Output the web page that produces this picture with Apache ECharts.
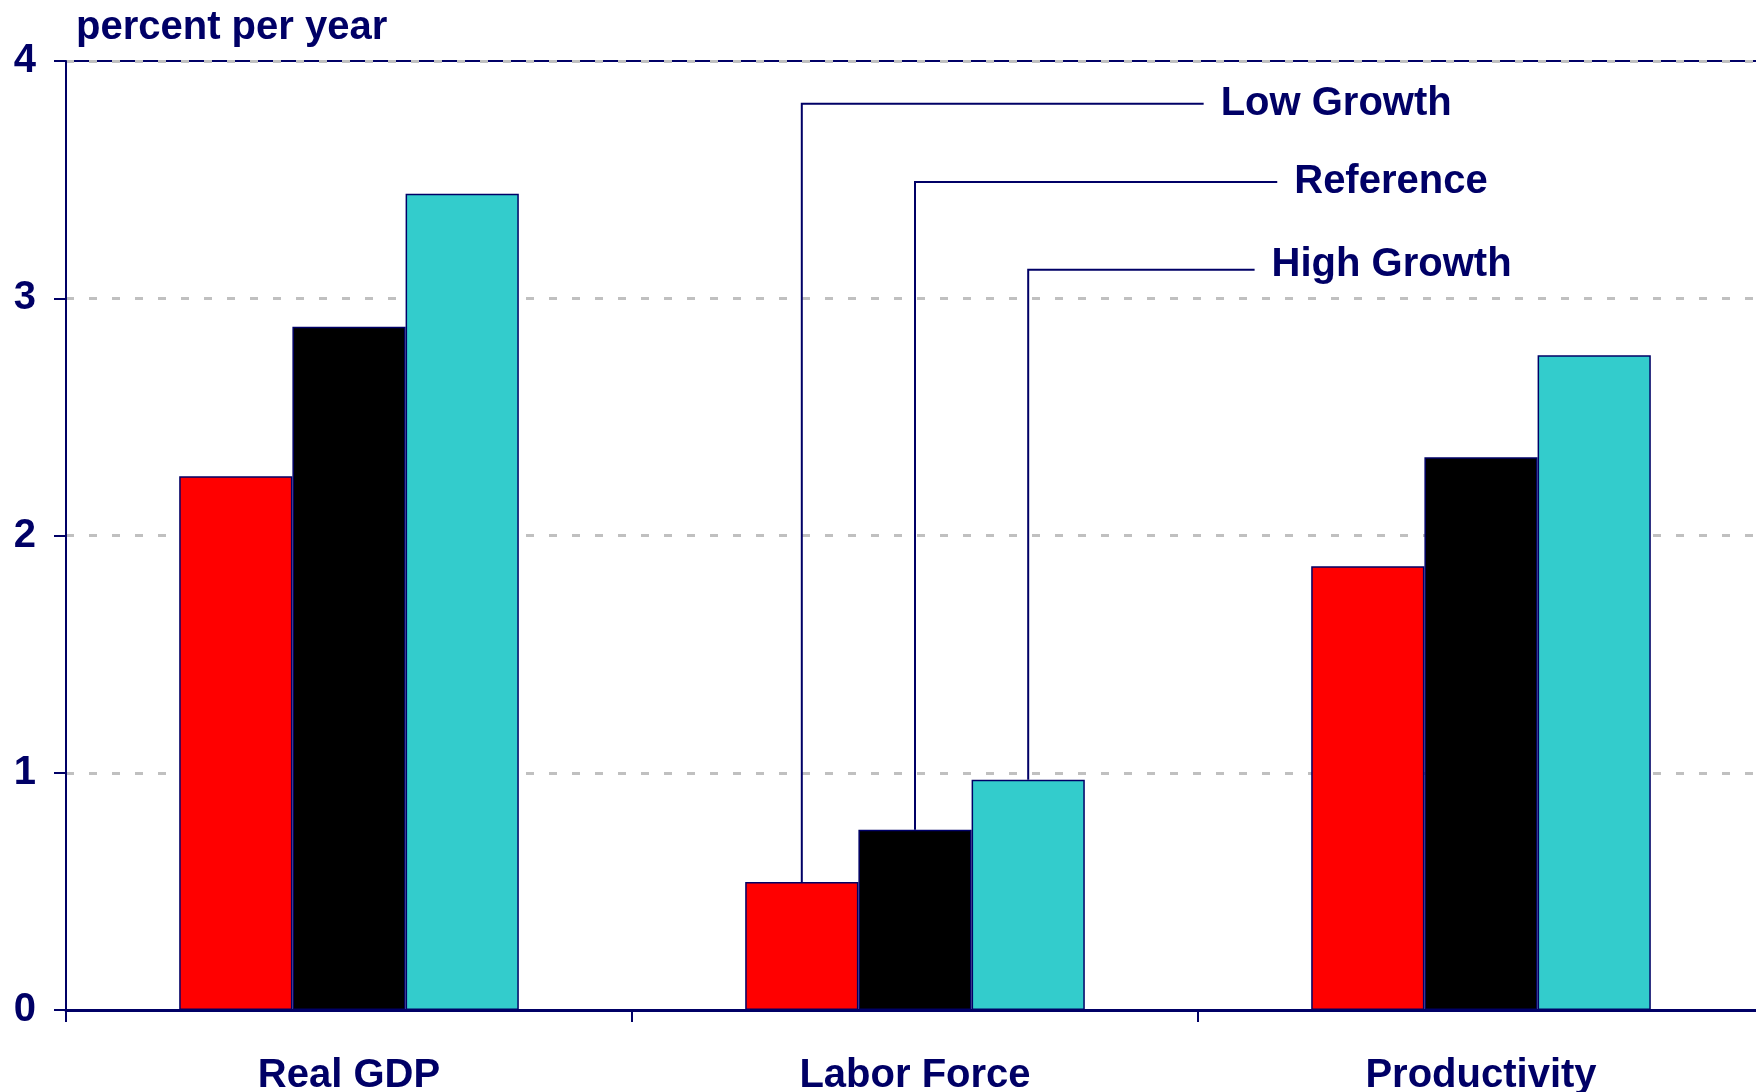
<!DOCTYPE html>
<html>
<head>
<meta charset="utf-8">
<script src="https://cdn.jsdelivr.net/npm/echarts@6/dist/echarts.min.js"></script>
<style>
  html, body { margin: 0; padding: 0; background: #fff; }
  #main { width: 1756px; height: 1092px; }
</style>
</head>
<body>
<div id="main"></div>
<script type="text/javascript">
// categories and series values (percent per year)
var categories = ['Real GDP', 'Labor Force', 'Productivity'];
var seriesNames = ['Low Growth', 'Reference', 'High Growth'];
var lowGrowth = [2.25, 0.54, 1.87];
var reference = [2.88, 0.76, 2.33];
var highGrowth = [3.44, 0.97, 2.76];
var yTicks = [0, 1, 2, 3, 4];

// callouts point at the Labor Force bars
var calloutCat = 1;
var calloutLevel = [3.82, 3.49, 3.12];   // height of the horizontal leader
var calloutEnd = [0.51, 0.64, 0.60];     // where the leader stops, in category widths from centre
var calloutTextDy = [0, 0, -5];

var navy = '#000066';
var font = "'Liberation Sans', Arial, sans-serif";
var colors = ['#FF0000', '#000000', '#33CCCC'];
var values = [lowGrowth, reference, highGrowth];

var chart = echarts.init(document.getElementById('main'));

var barSeries = seriesNames.map(function (name, i) {
  return {
    name: name,
    type: 'bar',
    data: values[i],
    barGap: '0%',
    barCategoryGap: '40%',
    itemStyle: { color: colors[i], borderColor: navy, borderWidth: 1.5 },
    z: 3
  };
});

// leader lines + texts, placed through the axes
var calloutData = seriesNames.map(function (name, i) {
  return [calloutCat, values[i][calloutCat], i, calloutLevel[i], calloutEnd[i]];
});

barSeries.push({
  type: 'custom',
  silent: true,
  z: 4,
  data: calloutData,
  renderItem: function (params, api) {
    var cat = api.value(0), val = api.value(1), k = api.value(2);
    var lvl = api.value(3), endOff = api.value(4);
    var band = api.size([1, 0])[0];
    var barW = band * 0.6 / 3;
    var top = api.coord([cat, val]);
    var x = top[0] + (k - 1) * barW;
    var yL = api.coord([cat, lvl])[1];
    var xEnd = top[0] + endOff * band;
    return {
      type: 'group',
      children: [{
        type: 'polyline',
        shape: { points: [[x, top[1]], [x, yL], [xEnd, yL]] },
        style: { stroke: navy, lineWidth: 2, fill: null }
      }, {
        type: 'text',
        style: {
          x: xEnd + 17, y: yL + calloutTextDy[k],
          text: seriesNames[k],
          font: 'bold 40px ' + font,
          fill: navy,
          verticalAlign: 'middle'
        }
      }]
    };
  }
});

var option = {
  animation: false,
  backgroundColor: '#fff',
  title: {
    text: 'percent per year',
    left: 76,
    top: 8,
    padding: 0,
    textStyle: { color: navy, fontSize: 40, fontWeight: 'bold', fontFamily: font, lineHeight: 40 }
  },
  grid: {
    left: 66, top: 61, width: 1698, bottom: 82,
    outerBoundsMode: 'none',
    containLabel: false,
    show: true, borderColor: navy, borderWidth: 2
  },
  xAxis: {
    type: 'category',
    data: categories,
    axisLine: { lineStyle: { color: navy, width: 3 } },
    axisTick: { show: true, length: 12, alignWithLabel: false, lineStyle: { color: navy, width: 2 } },
    axisLabel: { color: navy, fontSize: 40, fontWeight: 'bold', fontFamily: font, margin: 46 }
  },
  yAxis: {
    type: 'value',
    min: yTicks[0],
    max: yTicks[yTicks.length - 1],
    interval: 1,
    axisLine: { show: true, lineStyle: { color: navy, width: 2 } },
    axisTick: { show: true, length: 12, lineStyle: { color: navy, width: 2 } },
    axisLabel: { color: navy, fontSize: 40, fontWeight: 'bold', fontFamily: font, margin: 30 },
    splitLine: { show: true, lineStyle: { color: '#C0C0C0', width: 3, type: [8, 15] } }
  },
  series: barSeries
};

chart.setOption(option);
</script>
</body>
</html>
